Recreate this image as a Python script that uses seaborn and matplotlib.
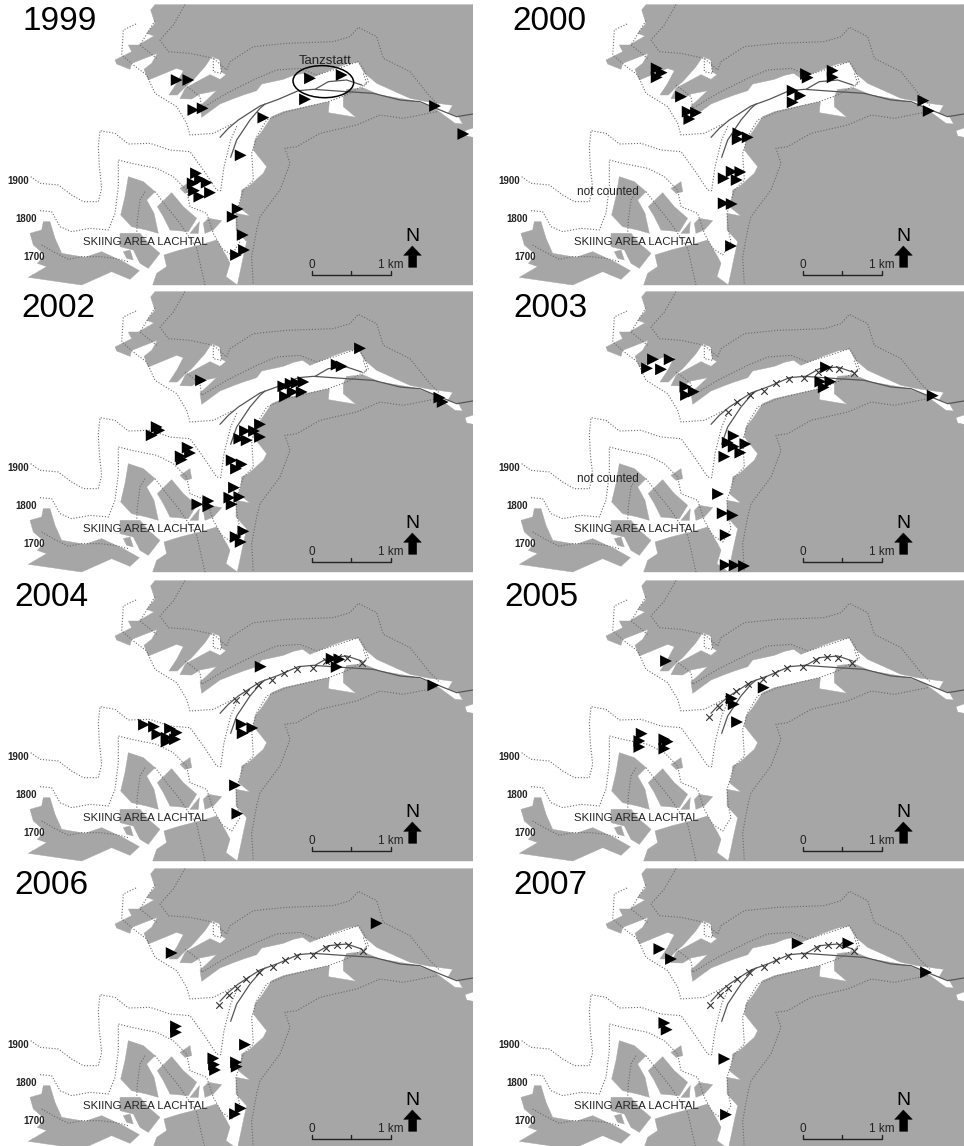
#Tanzstatt valley maps, one panel per year
import matplotlib
matplotlib.use("Agg")
import matplotlib.pyplot as plt
from matplotlib.patches import Ellipse, Polygon
import seaborn as sns

sns.set_theme(style="white")
plt.rcParams["font.family"] = ["Liberation Sans", "DejaVu Sans"]

#MAP SHAPES (same base map in every panel)
forest_north = [(452,30),(465,14),(1419,14),(1419,345),(1375,349),(1345,338),(1358,316),(1285,306),(1230,295),(1170,268),
                (1130,250),(1092,218),(1075,186),(1040,192),(1000,206),(930,235),(908,220),(880,226),(850,238),(785,252),
                (770,272),(730,285),(700,296),(660,312),(605,352),(600,318),(620,300),(650,272),(600,282),(575,297),
                (540,296),(556,264),(630,224),(660,238),(678,224),(664,216),(660,180),(635,170),(615,200),(575,245),
                (555,262),(532,285),(507,285),(530,250),(550,212),(530,205),(445,240),(432,208),(455,190),(472,160),
                (395,190),(390,208),(350,192),(345,180),(395,155),(385,135),(415,135),(462,108),(440,100),(465,70)]
forest_south = [(1419,345),(1375,349),(1388,372),(1365,370),(1300,322),(1240,302),(1140,285),(1090,264),(1040,268),(1030,290),
                (1030,320),(1068,352),(985,338),(988,305),(940,315),(850,335),(815,350),(785,395),(765,420),(760,450),
                (800,500),(790,520),(745,560),(725,570),(722,600),(715,620),(750,648),(708,640),(708,690),(740,725),
                (730,770),(712,855),(1419,855),(1419,412),(1400,408),(1395,392),(1419,384)]
forest_bottom = [(458,855),(470,820),(500,800),(492,765),(540,750),(600,735),(650,720),(680,770),(690,790),(678,830),(712,855)]
forest_sw = [(130,665),(150,665),(165,715),(185,760),(255,772),(305,755),(370,785),(418,812),(390,838),(335,815),
             (245,855),(85,832),(140,800),(112,790),(135,765),(100,735),(90,700),(125,690)]
islands = [
    [(385,530),(430,545),(465,575),(440,600),(462,640),(475,700),(440,690),(395,680),(362,645),(375,590)],
    [(515,578),(550,620),(590,655),(565,695),(510,690),(490,650),(472,620)],
    [(360,700),(420,700),(445,730),(480,760),(445,805),(420,790),(400,750),(360,740)],
    [(370,755),(390,750),(400,780),(380,775)],
    [(540,565),(570,545),(575,575),(555,580)],
    [(598,665),(595,700),(570,700)],
    [(625,655),(665,662),(640,690),(615,700),(610,670)],
]

contours = [
    [(92,530),(120,550),(175,555),(215,585),(250,605),(295,605),(305,565),(298,500),(295,440),(300,392),(345,400),(385,432),
     (450,430),(510,450),(570,455),(610,510),(650,570),(662,572),(672,500),(692,420),(712,375)],
    [(120,632),(155,635),(180,680),(215,695),(270,685),(325,690),(345,640),(355,560),(355,480),(395,490),(470,505),(520,530),
     (560,570),(570,620),(620,640),(640,700),(665,745),(695,765),(720,725),(712,690),(708,640),(730,570),(760,540),(755,460),
     (770,410),(800,360),(860,335),(985,305),(1040,285),(1100,250),(1090,220)],
    [(125,735),(160,755),(205,778),(245,770),(300,770),(345,775),(385,785)],
    [(435,575),(420,600),(412,660),(410,700)],
    [(465,575),(500,620),(540,670),(590,745),(615,855)],
    [(408,72),(370,90),(365,165),(400,195),(440,225),(465,280),(530,320),(560,370),(570,405),(640,400),(700,370)],
    [(555,255),(600,290),(605,325),(680,280),(770,235),(830,210),(900,205),(950,225),(1000,210),(1075,185),(1095,215),(1105,245),(1085,265)],
    [(555,14),(520,75),(480,120),(505,155),(570,160),(640,175),(680,210),(690,185),(760,140),(860,130),(1000,125),(1050,110),
     (1075,82),(1130,110),(1150,175),(1230,215),(1290,290),(1320,320)],
    [(465,62),(420,135),(470,175)],
    [(640,175),(640,215),(665,220),(660,180)],
    [(1310,335),(1210,355),(1140,345),(1070,375),(960,400),(890,440),(855,445),(870,490),(840,570),(780,650),(770,690),(755,770),(760,855)],
]

rivers = [
    [(660,412),(685,385),(715,360),(780,318),(835,298),(895,272),(940,268),(1040,275),(1120,280),(1200,300),(1260,305),(1320,330),(1370,350),(1419,342)],
    [(692,472),(710,420),(750,360),(780,325),(795,312)],
    [(945,268),(985,245),(1040,240),(1085,255)],
]

#TRIANGLES (birds) AND CROSSES PER YEAR
tri_1999 = [(530,240),(565,240),(580,330),(608,325),(790,353),(722,466),(930,235),(1025,225),(915,298),(1305,318),(1390,402),
            (588,520),(600,538),(620,548),(578,550),(582,572),(630,578),(598,590),(713,627),(698,650),(728,705),(732,750),(708,765)]
tri_2000 = [(497,205),(512,218),(497,232),(570,290),(590,335),(615,338),(595,357),(945,222),(950,233),(1025,212),(1025,232),
            (905,272),(928,287),(905,307),(1297,302),(1313,333),(742,400),(770,412),(740,418),(698,535),(722,515),(748,516),
            (737,540),(698,610),(722,612),(720,738)]
tri_2002 = [(603,280),(1080,184),(1010,233),(1025,238),(850,298),(872,290),(890,288),(910,285),(855,328),(878,315),(905,315),
            (1318,332),(1328,345),(470,420),(478,430),(455,445),(563,482),(570,498),(542,508),(545,518),(780,412),(762,432),
            (780,450),(735,432),(718,455),(740,460),(695,520),(725,532),(708,545),(702,602),(688,632),(718,630),(695,652),
            (592,652),(625,642),(625,658),(730,733),(707,750),(722,765)]
tri_2003 = [(486,217),(536,217),(468,244),(510,247),(583,299),(608,314),(585,324),(1005,241),(988,284),(1018,284),(998,301),
            (1325,326),(728,447),(710,467),(763,471),(728,479),(748,497),(700,509),(681,621),(695,679),(725,685),(704,744),
            (704,834),(731,835),(759,837)]
tri_2004 = [(432,446),(462,452),(472,475),(510,458),(530,470),(500,485),(525,490),(500,497),(782,272),(995,248),(1018,250),
            (1010,273),(1300,328),(725,445),(728,472),(757,456),(705,628),(712,713)]
tri_2005 = [(525,255),(452,473),(445,495),(445,513),(520,490),(530,497),(520,518),(818,335),(722,368),(728,385),(738,438)]
tri_2006 = [(1130,178),(515,267),(528,487),(528,505),(640,583),(642,602),(645,618),(735,542),(708,595),(710,608),(722,733),(705,750)]
tri_2007 = [(505,255),(540,285),(920,238),(1072,238),(1305,325),(700,585),(705,752),(520,477),(527,497)]

x_2003 = [(711,374),(738,345),(778,325),(820,311),(856,289),(893,276),(940,272),(981,254),(1013,244),(1045,245),(1090,259)]
x_2004 = [(708,373),(737,347),(775,326),(817,312),(853,290),(890,278),(938,275),(978,255),(1013,243),(1042,247),(1087,262)]
x_2005 = [(655,423),(685,392),(712,370),(735,345),(772,325),(815,310),(852,290),(888,277),(935,273),(975,253),(1008,243),(1040,247),(1082,260)]
x_2006 = [(658,423),(688,392),(710,372),(738,345),(777,325),(818,310),(855,288),(892,275),(938,272),(978,253),(1012,243),(1043,243),(1088,260)]
x_2007 = [(658,423),(688,392),(710,372),(738,345),(775,325),(818,310),(855,288),(892,275),(938,272),(978,253),(1012,243),(1043,243),(1088,260)]

#year, triangles, crosses, panel left/top in pixels, x of the year label
panels = [
    ("1999", tri_1999, [], 0, 0, 180),
    ("2000", tri_2000, [], 491, 0, 175),
    ("2002", tri_2002, [], 0, 287, 175),
    ("2003", tri_2003, x_2003, 491, 287, 178),
    ("2004", tri_2004, x_2004, 0, 576, 155),
    ("2005", tri_2005, x_2005, 491, 576, 150),
    ("2006", tri_2006, x_2006, 0, 864, 155),
    ("2007", tri_2007, x_2007, 491, 864, 178),
]

W, H = 964, 1146
GREY = "#a6a6a6"
fig = plt.figure(figsize=(W / 100, H / 100), dpi=100, facecolor="white")

for year, tri, crosses, left, top, year_x in panels:
    ax = fig.add_axes([left / W, 1 - (top + 287) / H, 473 / W, 287 / H])

    #forest
    for shape in [forest_north, forest_south, forest_bottom, forest_sw] + islands:
        ax.add_patch(Polygon(shape, closed=True, facecolor=GREY, edgecolor=GREY, linewidth=0.3, zorder=1))

    #contour lines
    for line in contours:
        ax.plot([p[0] for p in line], [p[1] for p in line], color="#6a6a6a", lw=0.8, ls=(0, (1, 1.6)), zorder=2)

    #ski runs
    for line in rivers:
        ax.plot([p[0] for p in line], [p[1] for p in line], color="#555555", lw=0.9, zorder=3)

    #points
    sns.scatterplot(x=[p[0] for p in tri], y=[p[1] for p in tri], marker=">", s=72, color="black",
                    edgecolor="none", linewidth=0, ax=ax, zorder=5, clip_on=False)
    if crosses:
        sns.scatterplot(x=[p[0] for p in crosses], y=[p[1] for p in crosses], marker="x", s=22, color="#333333",
                        linewidth=0.8, ax=ax, zorder=4)

    #texts
    ax.text(year_x, 65, year, fontsize=24, ha="center", va="center", color="black", zorder=6)
    ax.text(55, 543, "1900", fontsize=7, ha="center", va="center", color="#222222", fontweight="bold", zorder=6)
    ax.text(78, 658, "1800", fontsize=7, ha="center", va="center", color="#222222", fontweight="bold", zorder=6)
    ax.text(103, 771, "1700", fontsize=7, ha="center", va="center", color="#222222", fontweight="bold", zorder=6)
    ax.text(435, 725, "SKIING AREA LACHTAL", fontsize=8.2, ha="center", va="center", color="#222222", zorder=6)
    if year in ("2000", "2003"):
        ax.text(350, 577, "not counted", fontsize=8.5, ha="center", va="center", color="#222222", zorder=6)
    if year == "1999":
        ax.text(977, 182, "Tanzstatt", fontsize=9.5, ha="center", va="center", color="#222222", zorder=6)
        ax.add_patch(Ellipse((970, 245), 182, 96, angle=2, fill=False, edgecolor="black", lw=1.1, zorder=6))

    #scale bar
    ax.plot([935, 935, 1172, 1172], [812, 824, 824, 812], color="#222222", lw=1.0, zorder=6)
    ax.plot([1054, 1054], [814, 824], color="#222222", lw=1.0, zorder=6)
    ax.text(935, 795, "0", fontsize=8.5, ha="center", va="center", color="#222222", zorder=6)
    ax.text(1172, 795, "1 km", fontsize=8.5, ha="center", va="center", color="#222222", zorder=6)

    #north arrow
    ax.text(1236, 710, "N", fontsize=14, ha="center", va="center", color="black", zorder=6)
    ax.add_patch(Polygon([(1211,766),(1237,738),(1264,766),(1250,766),(1250,802),(1226,802),(1226,766)],
                         closed=True, facecolor="black", edgecolor="black", lw=0.3, zorder=6))

    ax.set_xlim(0, 1419)
    ax.set_ylim(861, 0)
    ax.set_axis_off()

fig.savefig("out.png", dpi=100, facecolor="white")
